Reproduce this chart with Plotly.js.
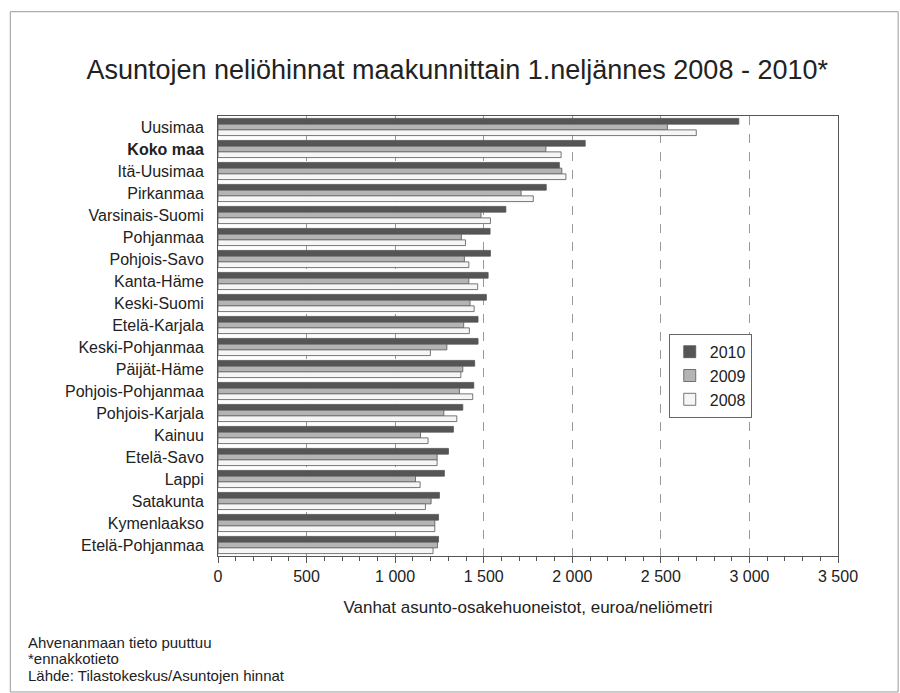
<!DOCTYPE html>
<html>
<head>
<meta charset="utf-8">
<script src="https://cdn.plot.ly/plotly-3.0.1.min.js"></script>
<style>
html,body{margin:0;padding:0;background:#fff;}
#chart{width:900px;height:693px;}
</style>
</head>
<body>
<div id="chart"></div>
<script>
const regions = ["Uusimaa","Koko maa","Itä-Uusimaa","Pirkanmaa","Varsinais-Suomi","Pohjanmaa","Pohjois-Savo","Kanta-Häme","Keski-Suomi","Etelä-Karjala","Keski-Pohjanmaa","Päijät-Häme","Pohjois-Pohjanmaa","Pohjois-Karjala","Kainuu","Etelä-Savo","Lappi","Satakunta","Kymenlaakso","Etelä-Pohjanmaa"];
const v2010 = [2940,2073,1927,1853,1625,1536,1538,1525,1515,1468,1468,1449,1444,1382,1329,1301,1278,1250,1245,1245];
const v2009 = [2537,1851,1941,1711,1485,1374,1391,1416,1423,1387,1292,1382,1363,1275,1143,1237,1115,1203,1224,1239];
const v2008 = [2700,1937,1964,1780,1538,1397,1416,1466,1446,1419,1199,1371,1438,1348,1186,1237,1141,1171,1224,1214];
const xTicks = [0,500,1000,1500,2000,2500,3000,3500];
const xTickText = ["0","500","1 000","1 500","2 000","2 500","3 000","3 500"];
const tickLabels = regions.map(r => r === "Koko maa" ? "<b>Koko maa</b>" : r);
const notes = ["Ahvenanmaan tieto puuttuu", "*ennakkotieto", "Lähde: Tilastokeskus/Asuntojen hinnat"];

const font = "Liberation Sans, Arial, Helvetica, sans-serif";
function tr(name, vals, fill) {
  return {
    type: "bar", orientation: "h", name: name,
    y: regions, x: vals,
    marker: {color: fill, line: {color: "#555", width: 0.8}},
    hoverinfo: "x+y+name"
  };
}
const data = [
  tr("2010", v2010, "#555555"),
  tr("2009", v2009, "#b4b4b4"),
  tr("2008", v2008, "#f6f6f6")
];
const noteY = [-0.1955, -0.234, -0.2705];
const layout = {
  width: 900, height: 693,
  margin: {l: 218, r: 62, t: 116, b: 137},
  paper_bgcolor: "#fff", plot_bgcolor: "#fff",
  font: {family: font, color: "#222", size: 16},
  title: {text: "Asuntojen neliöhinnat maakunnittain 1.neljännes 2008 - 2010*", x: 0.508, xanchor: "center", y: 0.9, yanchor: "middle", font: {size: 27, color: "#222"}},
  barmode: "group", bargap: 0.22, bargroupgap: 0,
  showlegend: true,
  legend: {x: 0.727, y: 0.505, xanchor: "left", yanchor: "top", bordercolor: "#666", borderwidth: 1, bgcolor: "#fff", font: {size: 16}, traceorder: "normal", itemwidth: 20, tracegroupgap: 0},
  xaxis: {
    range: [0, 3500], tickvals: xTicks, ticktext: xTickText,
    showgrid: true, gridcolor: "#999", griddash: "dash", gridwidth: 1,
    ticks: "outside", ticklen: 6, tickcolor: "#555",
    minor: {dtick: 100, ticks: "outside", ticklen: 4, tickcolor: "#555", showgrid: false},
    showline: true, linecolor: "#555", mirror: true, zeroline: false,
    tickfont: {size: 16},
    title: {text: "Vanhat asunto-osakehuoneistot, euroa/neliömetri", font: {size: 17}, standoff: 16}
  },
  yaxis: {
    autorange: "reversed", tickvals: regions, ticktext: tickLabels,
    showline: true, linecolor: "#555", mirror: true, ticks: "", ticklen: 0,
    tickfont: {size: 16}, automargin: false, ticklabelstandoff: 10
  },
  shapes: [
    {type: "rect", xref: "paper", yref: "paper", x0: -0.335, x1: 1.097, y0: -0.309, y1: 1.237, line: {color: "#999", width: 1}, fillcolor: "rgba(0,0,0,0)", layer: "below"}
  ],
  annotations: notes.map((t, i) => ({
    text: t, xref: "paper", yref: "paper", x: -0.31, y: noteY[i], xanchor: "left", yanchor: "middle",
    align: "left", showarrow: false, font: {size: 15, color: "#222"}
  }))
};
Plotly.newPlot("chart", data, layout, {displayModeBar: false, staticPlot: true});
</script>
</body>
</html>
